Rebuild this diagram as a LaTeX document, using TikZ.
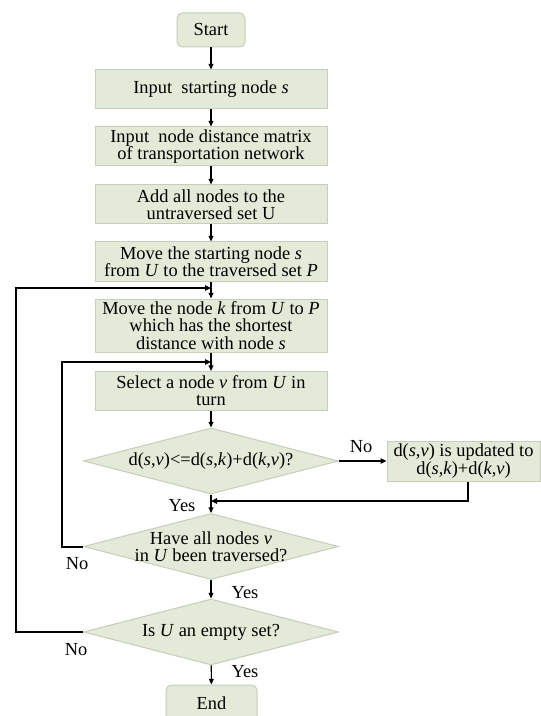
\documentclass[tikz,border=0pt]{standalone}
\usepackage{fontspec}
\setmainfont{Liberation Serif}
\usetikzlibrary{shapes.geometric,arrows.meta}
\definecolor{fillc}{HTML}{E4EAD8}
\definecolor{bordc}{HTML}{C6CDBB}
\newcommand{\fs}{\fontsize{13.8pt}{12.9pt}\selectfont}
\begin{document}
\begin{tikzpicture}[x=0.75pt,y=-0.75pt,
  every node/.style={font=\fs},
  procbox/.style={draw=bordc,fill=fillc,line width=0.75pt,minimum width=174pt,minimum height=29.25pt,inner sep=0pt,align=center},
  termbox/.style={draw=bordc,fill=fillc,line width=0.75pt,rounded corners=4pt,inner sep=0pt,align=center},
  decbox/.style={diamond,draw=bordc,fill=fillc,line width=0.75pt,minimum width=191.25pt,minimum height=49.5pt,inner sep=0pt},
  dtext/.style={align=center,inner sep=0pt},
  lbl/.style={inner sep=0pt},
  flow/.style={draw=black,line width=0.8pt,-{Triangle[length=4.2pt,width=3.6pt]}},
  flowthick/.style={draw=black,line width=1.2pt,-{Triangle[length=4.5pt,width=4pt]}},
  loopline/.style={draw=black,line width=1.5pt,-{Triangle[length=4.5pt,width=4pt]}}]
\useasboundingbox (0,0) rectangle (540,716);
\fill[white] (0,0) rectangle (540,716);

\node[termbox,minimum width=51pt,minimum height=25.5pt] (start) at (211,30) {Start};
\node[procbox] (b1) at (211,89.5) {Input\ \ starting node \textit{s}};
\node[procbox] (b2) at (211,146.5) {Input\ \ node distance matrix\\of transportation network};
\node[procbox] (b3) at (211,204.5) {Add all nodes to the\\untraversed set U};
\node[procbox] (b4) at (211,261.5) {Move the starting node \textit{s}\\from \textit{U} to the traversed set \textit{P}};
\node[procbox,minimum height=39.75pt] (b5) at (211,325.5) {Move the node \textit{k} from \textit{U} to \textit{P}\\which has the shortest\\distance with node \textit{s}};
\node[procbox] (b6) at (211,391) {Select a node \textit{v} from \textit{U} in\\turn};
\node[decbox] (d1) at (211,461) {};
\node[dtext] (d1t) at (d1) {d(\textit{s},\textit{v})<=d(\textit{s},\textit{k})+d(\textit{k},\textit{v})?};
\node[procbox,minimum width=114.75pt,minimum height=30pt] (r) at (463.5,461) {d(\textit{s},\textit{v}) is updated to\\d(\textit{s},\textit{k})+d(\textit{k},\textit{v})};
\node[decbox] (d2) at (211,546.5) {};
\node[dtext] (d2t) at (d2) {Have all nodes \textit{v}\\in \textit{U} been traversed?};
\node[decbox] (d3) at (211,632) {};
\node[dtext] (d3t) at (d3) {Is \textit{U} an empty set?};
\node[termbox,minimum width=68.25pt,minimum height=27.75pt] (end) at (211.5,703.5) {End};

\coordinate (xo) at (16,0);
\coordinate (xi) at (62,0);
\coordinate (mo) at (211,288);
\coordinate (mi) at (211,362);
\coordinate (mm) at (211,501);

\draw[flow] (start) -- (b1);
\draw[flow] (b1) -- (b2);
\draw[flow] (b2) -- (b3);
\draw[flow] (b3) -- (b4);
\draw[flow] (b4) -- (b5);
\draw[flow] (b5) -- (b6);
\draw[flow] (b6) -- (d1);
\draw[flow] (d1) -- (d2);
\draw[flow] (d2) -- (d3);
\draw[flow] (d3) -- (end);
\draw[flowthick] (d1.east) -- (r.west);
\draw[loopline] (r.south -| 468,0) |- (mm);
\draw[loopline] (d2.west) -- (d2.west -| xi) |- (mi);
\draw[loopline] (d3.west) -- (d3.west -| xo) |- (mo);

\node[lbl] (no1) at (361,447) {No};
\node[lbl] (yes1) at (182,506) {Yes};
\node[lbl] (no2) at (77,564) {No};
\node[lbl] (yes2) at (245,593) {Yes};
\node[lbl] (no3) at (76,650) {No};
\node[lbl] (yes3) at (245,672) {Yes};
\end{tikzpicture}
\end{document}
